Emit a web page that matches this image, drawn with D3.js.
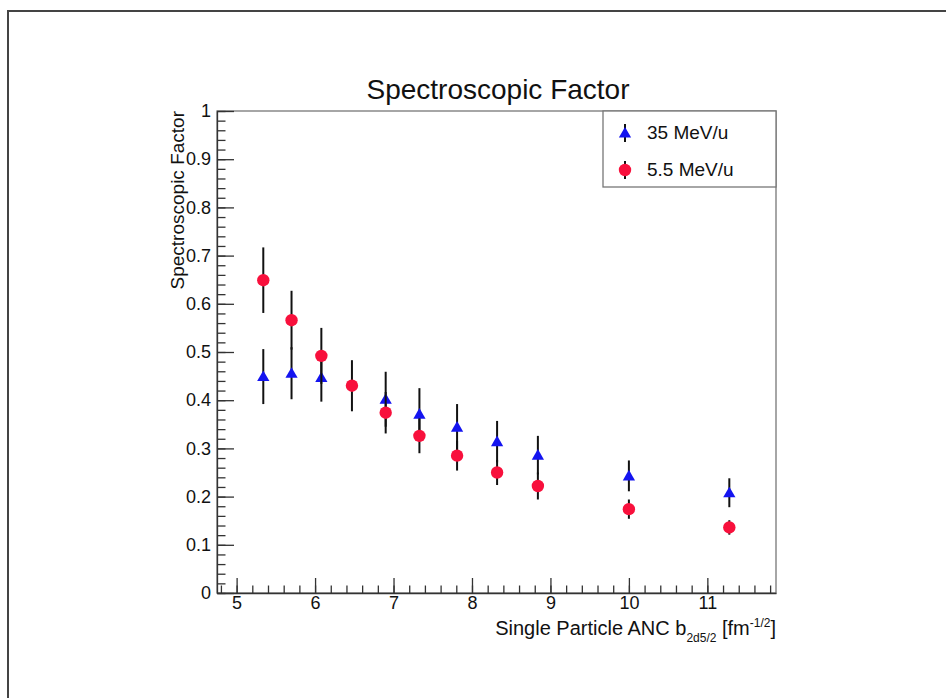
<!DOCTYPE html>
<html>
<head>
<meta charset="utf-8">
<script src="https://cdn.jsdelivr.net/npm/d3@7"></script>
<style>
  body { margin: 0; background: #fff; }
  svg { display: block; font-family: "Liberation Sans", Arial, sans-serif; }
  .axis path, .axis line { stroke: #333; stroke-width: 1.3; }
  .axis text { font-size: 18px; fill: #111; }
</style>
</head>
<body>
<div id="chart"></div>
<script>
// Spectroscopic factor vs single particle ANC
var x35 = [5.34, 5.70, 6.08, 6.90, 7.33, 7.81, 8.32, 8.84, 10.0, 11.28];
var sf35 = [0.449, 0.456, 0.447, 0.402, 0.371, 0.344, 0.314, 0.286, 0.243, 0.208];
var err35 = [0.057, 0.054, 0.050, 0.057, 0.054, 0.048, 0.043, 0.040, 0.032, 0.030];

var x55 = [5.34, 5.70, 6.08, 6.47, 6.90, 7.33, 7.81, 8.32, 8.84, 10.0, 11.28];
var sf55 = [0.649, 0.566, 0.492, 0.430, 0.374, 0.326, 0.285, 0.250, 0.222, 0.174, 0.136];
var err55 = [0.068, 0.061, 0.058, 0.053, 0.043, 0.036, 0.031, 0.026, 0.028, 0.020, 0.015];

var xTicks = [5, 6, 7, 8, 9, 10, 11];
var yTicks = [0, 0.1, 0.2, 0.3, 0.4, 0.5, 0.6, 0.7, 0.8, 0.9, 1];
var legendLabels = ["35 MeV/u", "5.5 MeV/u"];

var width = 946;
var height = 698;
var margin = { left: 217, right: 170, top: 111, bottom: 105 };

var svg = d3
  .select("#chart")
  .append("svg")
  .attr("width", width)
  .attr("height", height);

// canvas border
svg
  .append("path")
  .attr("d", "M8," + height + "V11H" + width)
  .attr("fill", "none")
  .attr("stroke", "#444")
  .attr("stroke-width", 2);

var x = d3
  .scaleLinear()
  .domain([4.75, 11.875])
  .range([margin.left, width - margin.right]);

var y = d3
  .scaleLinear()
  .domain([0, 1])
  .range([height - margin.bottom, margin.top]);

// frame
svg
  .append("rect")
  .attr("x", x(4.75))
  .attr("y", y(1))
  .attr("width", x(11.875) - x(4.75))
  .attr("height", y(0) - y(1))
  .attr("fill", "none")
  .attr("stroke", "#777")
  .attr("stroke-width", 1.3);

var xMinor = d3.range(48, 119, 2).map(function (d) { return d / 10; });
var yMinor = d3.range(0, 51).map(function (d) { return d / 50; });

svg
  .append("g")
  .attr("class", "axis")
  .attr("transform", "translate(0," + y(0) + ")")
  .call(d3.axisBottom(x).tickValues(xMinor).tickSize(-7.5).tickFormat(""))
  .call(function (g) { g.select(".domain").remove(); });

svg
  .append("g")
  .attr("class", "axis")
  .attr("transform", "translate(0," + y(0) + ")")
  .call(d3.axisBottom(x).tickValues(xTicks).tickSize(-15).tickSizeOuter(0).tickPadding(3));

svg
  .append("g")
  .attr("class", "axis")
  .attr("transform", "translate(" + x(4.75) + ",0)")
  .call(d3.axisLeft(y).tickValues(yMinor).tickSize(-8.5).tickFormat(""))
  .call(function (g) { g.select(".domain").remove(); });

svg
  .append("g")
  .attr("class", "axis")
  .attr("transform", "translate(" + x(4.75) + ",0)")
  .call(d3.axisLeft(y).tickValues(yTicks).tickSize(-17).tickSizeOuter(0).tickPadding(6)
    .tickFormat(function (d) { return String(d); }));

// titles
svg
  .append("text")
  .attr("x", 498)
  .attr("y", 99)
  .attr("text-anchor", "middle")
  .attr("font-size", 28)
  .attr("fill", "#111")
  .text("Spectroscopic Factor");

svg
  .append("text")
  .attr("transform", "translate(184," + y(1) + ") rotate(-90)")
  .attr("text-anchor", "end")
  .attr("font-size", 19)
  .attr("fill", "#111")
  .text("Spectroscopic Factor");

var xt = svg
  .append("text")
  .attr("x", x(11.875))
  .attr("y", 635)
  .attr("text-anchor", "end")
  .attr("font-size", 20)
  .attr("fill", "#111");
xt.append("tspan").text("Single Particle ANC b");
xt.append("tspan").attr("font-size", 12).attr("dy", 7).text("2d5/2");
xt.append("tspan").attr("dy", -7).text(" [fm");
xt.append("tspan").attr("font-size", 12).attr("dy", -8).text("-1/2");
xt.append("tspan").attr("dy", 8).text("]");

var triangle = d3.symbol().type(d3.symbolTriangle).size(65);

function drawSeries(xs, ys, es, color, isTriangle) {
  var pts = xs.map(function (d, i) { return { x: d, y: ys[i], e: es[i] }; });
  var g = svg.append("g");
  g.selectAll("line")
    .data(pts)
    .enter()
    .append("line")
    .attr("x1", function (d) { return x(d.x); })
    .attr("x2", function (d) { return x(d.x); })
    .attr("y1", function (d) { return y(d.y + d.e); })
    .attr("y2", function (d) { return y(d.y - d.e); })
    .attr("stroke", "#111")
    .attr("stroke-width", 2);
  if (isTriangle) {
    g.selectAll("path.m")
      .data(pts)
      .enter()
      .append("path")
      .attr("class", "m")
      .attr("d", triangle)
      .attr("transform", function (d) { return "translate(" + x(d.x) + "," + (y(d.y) + 1) + ")"; })
      .attr("fill", color);
  } else {
    g.selectAll("circle")
      .data(pts)
      .enter()
      .append("circle")
      .attr("cx", function (d) { return x(d.x); })
      .attr("cy", function (d) { return y(d.y); })
      .attr("r", 6.2)
      .attr("fill", color);
  }
}

drawSeries(x35, sf35, err35, "#1414f0", true);
drawSeries(x55, sf55, err55, "#f8103c", false);

// legend
var lg = svg.append("g");
lg.append("rect")
  .attr("x", 603)
  .attr("y", y(1))
  .attr("width", x(11.875) - 603)
  .attr("height", 76)
  .attr("fill", "#fff")
  .attr("stroke", "#777")
  .attr("stroke-width", 1.3);

var rows = [133, 170];
rows.forEach(function (ry, i) {
  lg.append("line")
    .attr("x1", 625).attr("x2", 625)
    .attr("y1", ry - 9).attr("y2", ry + 9)
    .attr("stroke", "#111").attr("stroke-width", 2);
  if (i === 0) {
    lg.append("path").attr("d", triangle).attr("transform", "translate(625," + (ry + 1) + ")").attr("fill", "#1414f0");
  } else {
    lg.append("circle").attr("cx", 625).attr("cy", ry).attr("r", 6.2).attr("fill", "#f8103c");
  }
  lg.append("text")
    .attr("x", 647)
    .attr("y", ry + 6)
    .attr("font-size", 19)
    .attr("fill", "#111")
    .text(legendLabels[i]);
});
</script>
</body>
</html>
